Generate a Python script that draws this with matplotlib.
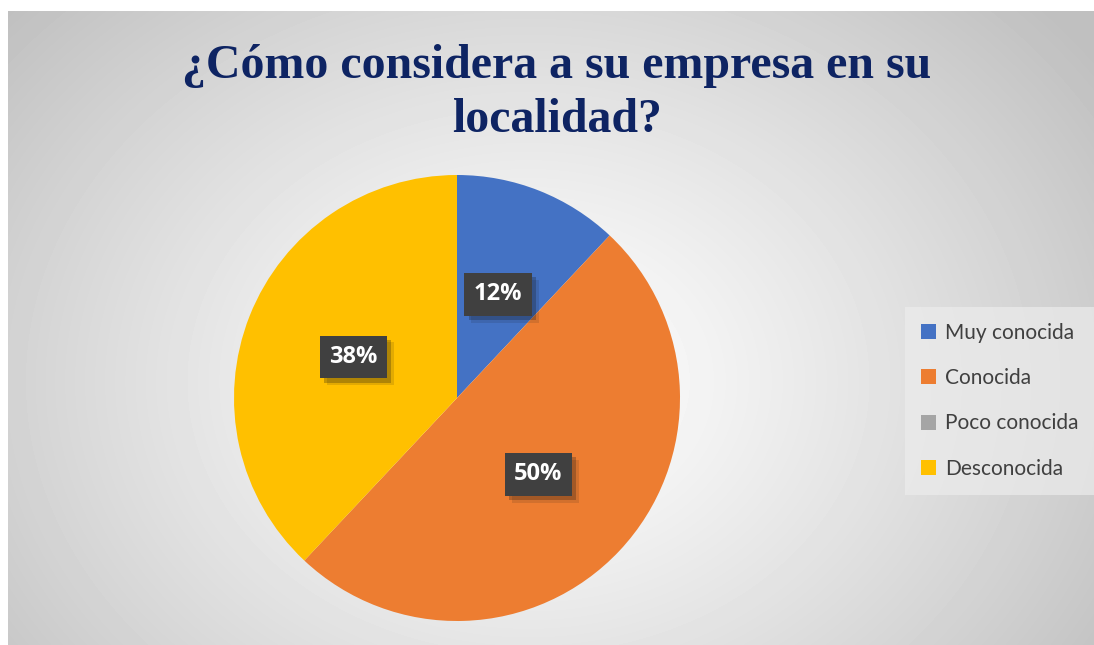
import numpy as np
import matplotlib
matplotlib.use("Agg")
import matplotlib.pyplot as plt
import matplotlib.patheffects as pe

labels = ["Muy conocida", "Conocida", "Poco conocida", "Desconocida"]
values = [12, 50, 0, 38]
colors = ["#4472c4", "#ed7d31", "#a5a5a5", "#ffc000"]
title = "¿Cómo considera a su empresa en su\nlocalidad?"

W, H = 1094, 645
fig = plt.figure(figsize=(W / 100, H / 100), dpi=100)
fig.patch.set_facecolor("white")

# radial gradient background of the chart area
bg = fig.add_axes([8 / W, 0, 1 - 8 / W, 1 - 11 / H])
yy, xx = np.mgrid[0:634, 0:1086]
d = np.sqrt(((xx - 520) / 700.0) ** 2 + ((yy - 370) / 560.0) ** 2)
shade = 1.0 - 0.25 * np.clip(d, 0, 1) ** 1.2
bg.imshow(shade, cmap="gray", vmin=0, vmax=1, aspect="auto", interpolation="bilinear")
bg.set_axis_off()

# pie
r = 223
cx, cy = 457, H - 398
ax = fig.add_axes([(cx - r) / W, (cy - r) / H, 2 * r / W, 2 * r / H])
ax.set_facecolor("none")


def pct(p):
    return "" if p < 0.5 else f"{p:.0f}%"


wedges, texts, autotexts = ax.pie(values, colors=colors, startangle=90, counterclock=False,
                                  autopct=pct, pctdistance=0.5, radius=1.0,
                                  wedgeprops=dict(linewidth=0))
ax.set_xlim(-1, 1)
ax.set_ylim(-1, 1)
for t in autotexts:
    t.set_color("white")
    t.set_fontsize(17)
    t.set_fontweight("bold")
    t.set_fontfamily("Open Sans")
    t.set_bbox(dict(boxstyle="square,pad=0.4", facecolor="#404040", edgecolor="none"))
    t.get_bbox_patch().set_path_effects([
        pe.SimplePatchShadow(offset=(5, -5), alpha=0.12),
        pe.SimplePatchShadow(offset=(3, -3), alpha=0.25),
        pe.Normal()])

fig.text(557 / W, 1 - 93 / H, title, ha="center", va="center", fontsize=34.5,
         fontweight="bold", family="Liberation Serif", color="#0e2463", linespacing=1.3)

leg = fig.legend(wedges, labels, loc="upper left", bbox_to_anchor=(905 / W, 1 - 307 / H),
                 frameon=True, fancybox=False, labelcolor="#404040",
                 handlelength=0.72, handleheight=0.72, handletextpad=0.45,
                 labelspacing=1.22, borderpad=0.75, borderaxespad=0,
                 prop={"family": "Lato", "size": 15})
leg.get_frame().set_facecolor("#ececec")
leg.get_frame().set_alpha(0.7)
leg.get_frame().set_edgecolor("none")

fig.savefig("out.png", dpi=100)
